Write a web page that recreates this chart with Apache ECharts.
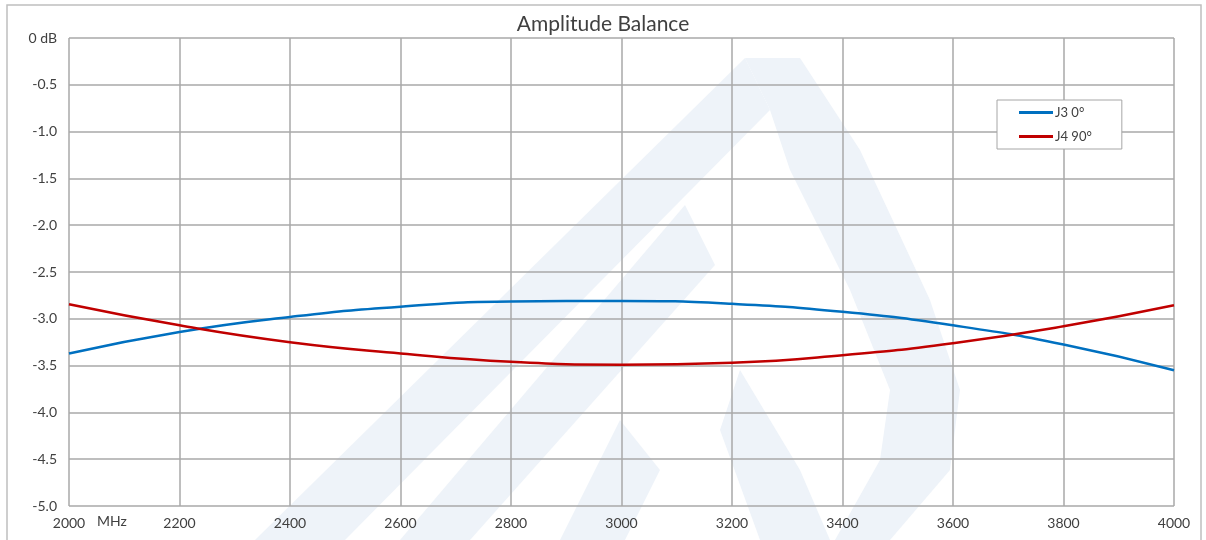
<!DOCTYPE html>
<html>
<head>
<meta charset="utf-8">
<script src="https://cdn.jsdelivr.net/npm/echarts@6/dist/echarts.min.js"></script>
<style>
html,body{margin:0;padding:0;background:#fff;}
#chart{width:1206px;height:540px;}
</style>
</head>
<body>
<div id="chart"></div>
<script>
const freqMHz = [2000, 2200, 2400, 2600, 2800, 3000, 3200, 3400, 3600, 3800, 4000];
const j3Values = [-3.37, -3.14, -2.98, -2.87, -2.815, -2.81, -2.84, -2.925, -3.07, -3.275, -3.55];
const j4Values = [-2.845, -3.07, -3.25, -3.37, -3.46, -3.49, -3.47, -3.39, -3.26, -3.08, -2.855];
const seriesNames = ['J3 0°', 'J4 90°'];
const titleText = 'Amplitude Balance';
const xUnit = 'MHz';

const FONT = 'Lato, "Open Sans", sans-serif';
const chart = echarts.init(document.getElementById('chart'), null, {renderer: 'canvas'});
const wm = '#eef3f9';

const option = {
  animation: false,
  backgroundColor: '#ffffff',
  title: {
    text: titleText,
    left: 'center',
    top: 9,
    textStyle: {fontFamily: FONT, fontSize: 21, fontWeight: 'normal', color: '#404040'}
  },
  grid: {left: 69, right: 32, top: 38, bottom: 34},
  legend: {
    orient: 'vertical',
    left: 997,
    top: 100,
    padding: [6, 30, 6, 22],
    itemGap: 11,
    itemWidth: 34,
    itemHeight: 3,
    icon: 'rect',
    borderColor: '#a6a6a6',
    borderWidth: 1,
    backgroundColor: '#ffffff',
    textStyle: {fontFamily: FONT, fontSize: 13, color: '#404040', padding: [0, 0, 0, -3]},
    data: seriesNames
  },
  xAxis: {
    type: 'value',
    min: 2000, max: 4000, interval: 200,
    axisLine: {show: false},
    axisTick: {show: false},
    axisLabel: {fontFamily: FONT, fontSize: 14, color: '#404040', margin: 10,
      formatter: v => String(v)},
    splitLine: {show: true, lineStyle: {color: '#a9a9a9', width: 1.5}}
  },
  yAxis: {
    type: 'value',
    min: -5, max: 0, interval: 0.5,
    axisLine: {show: false},
    axisTick: {show: false},
    axisLabel: {
      fontFamily: FONT, fontSize: 14, color: '#404040', margin: 12,
      formatter: v => v === 0 ? '0 dB' : v.toFixed(1)
    },
    splitLine: {show: true, lineStyle: {color: '#a9a9a9', width: 1.5}}
  },
  graphic: [
    {type: 'rect', z: -10, silent: true, shape: {x: 7, y: 5, width: 1194, height: 600},
     style: {fill: 'none', stroke: '#bfbfbf', lineWidth: 1.5}},
    {type: 'polygon', z: -5, silent: true,
     shape: {points: [[255, 540], [345, 540], [770, 110], [745, 58]]}, style: {fill: wm}},
    {type: 'polygon', z: -5, silent: true,
     shape: {points: [[745, 58], [800, 58], [860, 150], [930, 300], [960, 390], [950, 470], [890, 540], [835, 540], [880, 460], [890, 390], [850, 290], [790, 170], [770, 110]]}, style: {fill: wm}},
    {type: 'polygon', z: -5, silent: true,
     shape: {points: [[400, 540], [470, 540], [715, 265], [685, 205]]}, style: {fill: wm}},
    {type: 'polygon', z: -5, silent: true,
     shape: {points: [[560, 540], [625, 540], [660, 470], [620, 420]]}, style: {fill: wm}},
    {type: 'polygon', z: -5, silent: true,
     shape: {points: [[740, 370], [800, 470], [830, 540], [760, 540], [720, 430]]}, style: {fill: wm}},
    {type: 'text', left: 97, top: 514, silent: true,
     style: {text: xUnit, fontFamily: FONT, fontSize: 14, fill: '#404040'}}
  ],
  series: [
    {
      name: seriesNames[0], type: 'line', smooth: true, symbol: 'none',
      lineStyle: {color: '#0070c0', width: 2.5}, itemStyle: {color: '#0070c0'},
      data: freqMHz.map((f, i) => [f, j3Values[i]])
    },
    {
      name: seriesNames[1], type: 'line', smooth: true, symbol: 'none',
      lineStyle: {color: '#c00000', width: 2.5}, itemStyle: {color: '#c00000'},
      data: freqMHz.map((f, i) => [f, j4Values[i]])
    }
  ]
};
chart.setOption(option);
</script>
</body>
</html>
